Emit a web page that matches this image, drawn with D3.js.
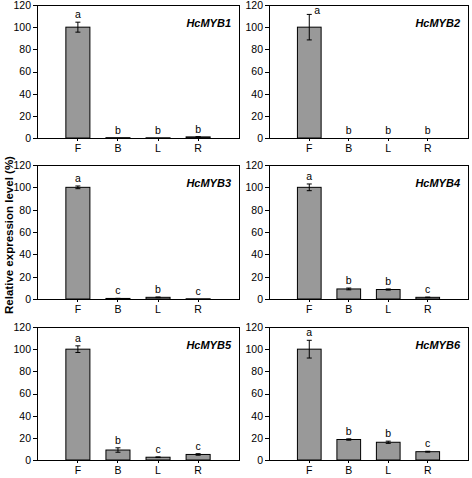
<!DOCTYPE html>
<html><head><meta charset="utf-8">
<script src="https://cdn.jsdelivr.net/npm/d3@7/dist/d3.min.js"></script>
<style>body{margin:0;background:#fff}svg{display:block;font-family:"Liberation Sans",Arial,sans-serif}</style>
</head><body><svg id="c" width="472" height="478"></svg>
<script>
const categories = ["F","B","L","R"];
const yTicks = [0,20,40,60,80,100,120];
const genes = ["HcMYB1","HcMYB2","HcMYB3","HcMYB4","HcMYB5","HcMYB6"];
const myb1 = [100, 0.3, 0.2, 1.0];
const myb1Err = [4.5, 0, 0, 0.2];
const myb1Sig = ["a","b","b","b"];
const myb2 = [100, 0, 0, 0];
const myb2Err = [11.5, 0, 0, 0];
const myb2Sig = ["a","b","b","b"];
const myb3 = [100, 0.5, 1.5, 0.2];
const myb3Err = [1.2, 0.1, 0.3, 0];
const myb3Sig = ["a","c","b","c"];
const myb4 = [100, 9, 8.5, 1.5];
const myb4Err = [3, 0.8, 0.5, 0.2];
const myb4Sig = ["a","b","b","c"];
const myb5 = [100, 9, 2.5, 5];
const myb5Err = [3, 2, 0.3, 0.7];
const myb5Sig = ["a","b","c","c"];
const myb6 = [100, 18.5, 16, 7.5];
const myb6Err = [8, 0.6, 1, 0.4];
const myb6Sig = ["a","b","b","c"];

const series = [
  {gene:genes[0], v:myb1, e:myb1Err, s:myb1Sig},
  {gene:genes[1], v:myb2, e:myb2Err, s:myb2Sig},
  {gene:genes[2], v:myb3, e:myb3Err, s:myb3Sig},
  {gene:genes[3], v:myb4, e:myb4Err, s:myb4Sig},
  {gene:genes[4], v:myb5, e:myb5Err, s:myb5Sig},
  {gene:genes[5], v:myb6, e:myb6Err, s:myb6Sig}
];

const svg = d3.select("#c");
const cols = [[37,239],[269,468]];
const rows = [[5,138],[165,299],[327,460]];

series.forEach((d,i)=>{
  const [x0,x1] = cols[i%2];
  const [y0,y1] = rows[Math.floor(i/2)];
  const x = d3.scaleBand().domain(categories).range([x0,x1]).paddingInner(0.4).paddingOuter(0.72);
  const y = d3.scaleLinear().domain([0,120]).range([y1,y0]);
  const g = svg.append("g");

  g.append("rect").attr("x",x0).attr("y",y0).attr("width",x1-x0).attr("height",y1-y0)
    .attr("fill","none").attr("stroke","#000").attr("stroke-width",1).attr("shape-rendering","crispEdges");

  const ya = g.append("g").attr("transform",`translate(${x0},0)`)
    .call(d3.axisLeft(y).tickValues(yTicks).tickSize(4).tickPadding(2));
  ya.select(".domain").remove();
  ya.selectAll("text").attr("font-size","10.5px").attr("fill","#000").attr("font-family","Liberation Sans, Arial, sans-serif");
  ya.selectAll("line").attr("shape-rendering","crispEdges");

  const xa = g.append("g").attr("transform",`translate(0,${y1})`)
    .call(d3.axisBottom(x).tickSize(3).tickPadding(4));
  xa.select(".domain").remove();
  xa.selectAll("text").attr("font-size","10.5px").attr("fill","#000").attr("font-family","Liberation Sans, Arial, sans-serif");
  xa.selectAll("line").attr("shape-rendering","crispEdges");

  const bw = x.bandwidth();
  categories.forEach((c,k)=>{
    const v = d.v[k], e = d.e[k];
    const cx = x(c) + bw/2;
    g.append("rect").attr("x",x(c)).attr("y",y(v)).attr("width",bw).attr("height",Math.max(0,y(0)-y(v)))
      .attr("fill","#999999").attr("stroke","#000").attr("stroke-width",1);
    if (e > 0) {
      const t = y(v+e), b = y(v-e);
      g.append("line").attr("x1",cx).attr("x2",cx).attr("y1",t).attr("y2",b).attr("stroke","#000");
      g.append("line").attr("x1",cx-2.5).attr("x2",cx+2.5).attr("y1",t).attr("y2",t).attr("stroke","#000");
      g.append("line").attr("x1",cx-2.5).attr("x2",cx+2.5).attr("y1",b).attr("y2",b).attr("stroke","#000");
    }
    let ly = y(v+e) - 4, lx = cx;
    if (ly < y0 + 8) { lx = cx + 8; ly = y0 + 9; }
    g.append("text").attr("x",lx).attr("y",ly).attr("text-anchor","middle")
      .attr("font-size","10.5px").text(d.s[k]);
  });

  g.append("text").attr("x",x1-8).attr("y",y0+22).attr("text-anchor","end")
    .attr("font-size","11px").attr("font-weight","bold").attr("font-style","italic").text(d.gene);
});

svg.append("text").attr("transform","translate(13,235) rotate(-90)").attr("text-anchor","middle")
  .attr("font-size","11.5px").attr("font-weight","bold").text("Relative expression level (%)");
</script></body></html>
